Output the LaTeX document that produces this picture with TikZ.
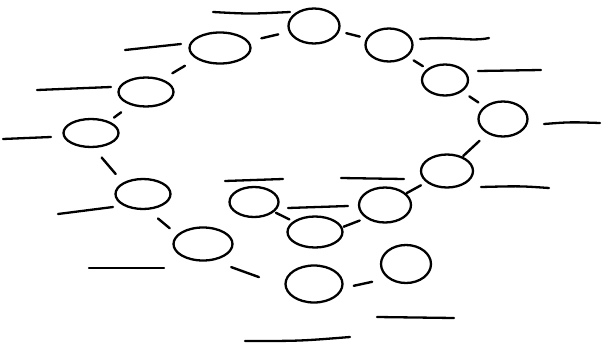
\documentclass[tikz,border=0pt]{standalone}
\usetikzlibrary{shapes.geometric,calc}
\begin{document}
\begin{tikzpicture}[x=1pt,y=-1pt,
  ring/.style={draw,ellipse,line width=2.3pt,inner sep=0pt},
  link/.style={line width=2.4pt,line cap=round},
  blank/.style={line width=2.3pt,line cap=round}]
\useasboundingbox[fill=white] (0,0) rectangle (602,343);
% circles
\node[ring,minimum width=51pt,minimum height=35pt] (T) at (314,26) {};
\node[ring,minimum width=61pt,minimum height=31pt] (A) at (220,48) {};
\node[ring,minimum width=55pt,minimum height=29pt] (B) at (146,92) {};
\node[ring,minimum width=55pt,minimum height=28pt] (C) at (91,133) {};
\node[ring,minimum width=47pt,minimum height=33pt] (D) at (389,45) {};
\node[ring,minimum width=46pt,minimum height=31pt] (E) at (445,80) {};
\node[ring,minimum width=49pt,minimum height=35pt] (F) at (503,119) {};
\node[ring,minimum width=52pt,minimum height=33pt] (G) at (447,171) {};
\node[ring,minimum width=52pt,minimum height=35pt] (H) at (385,205) {};
\node[ring,minimum width=55pt,minimum height=31pt] (I) at (315,232) {};
\node[ring,minimum width=49pt,minimum height=30pt] (J) at (254,202) {};
\node[ring,minimum width=55pt,minimum height=30pt] (K) at (143,194) {};
\node[ring,minimum width=59pt,minimum height=33pt] (L) at (203,244) {};
\node[ring,minimum width=57pt,minimum height=37pt] (M) at (314,284) {};
\node[ring,minimum width=50pt,minimum height=38pt] (N) at (406,264) {};
% connectors
\draw[link] ($(T)!0.38!(A)$) -- ($(T)!0.56!(A)$);
\draw[link] ($(A)!0.46!(B)+(-1,-2.5)$) -- ($(A)!0.63!(B)+(-1,-2.5)$);
\draw[link] ($(B)!0.47!(C)+(1,1)$) -- ($(B)!0.60!(C)+(1,1)$);
\draw[link] ($(C)!0.32!(K)+(-6,5)$) -- ($(C)!0.59!(K)+(-6,5)$);
\draw[link] ($(T)!0.43!(D)+(0,-1)$) -- ($(T)!0.61!(D)+(0,-1)$);
\draw[link] ($(D)!0.44!(E)$) -- ($(D)!0.605!(E)$);
\draw[link] ($(E)!0.42!(F)$) -- ($(E)!0.575!(F)$);
\draw[link] ($(F)!0.42!(G)$) -- ($(F)!0.71!(G)$);
\draw[link] ($(G)!0.42!(H)$) -- ($(G)!0.65!(H)$);
\draw[link] ($(H)!0.39!(I)+(2,5)$) -- ($(H)!0.62!(I)+(2,5)$);
\draw[link] ($(I)!0.42!(J)$) -- ($(I)!0.64!(J)$);
\draw[link] ($(K)!0.35!(L)+(-6,7)$) -- ($(K)!0.545!(L)+(-6,7)$);
\draw[link] ($(L)!0.29!(M)+(-4,11.5)$) -- ($(L)!0.54!(M)+(-4,11.5)$);
\draw[link] ($(M)!0.41!(N)+(2,10)$) -- ($(M)!0.61!(N)+(2,10)$);
% blank label lines
\draw[blank] (213,12) .. controls (250,14) .. (290,12);
\draw[blank] (125,50) -- (181,44);
\draw[blank] (37,90) -- (111,87);
\draw[blank] (3,139) -- (51,137);
\draw[blank] (420,39) .. controls (455,36) and (470,42) .. (489,38);
\draw[blank] (478,71) -- (541,70);
\draw[blank] (544,124) .. controls (570,122) .. (600,123);
\draw[blank] (481,187) .. controls (520,186) .. (549,188);
\draw[blank] (341,178) -- (404,179);
\draw[blank] (288,208) -- (348,206);
\draw[blank] (225,181) -- (283,179);
\draw[blank] (58,214) -- (113,207);
\draw[blank] (89,268) -- (164,268);
\draw[blank] (245,341) .. controls (300,341) .. (350,337);
\draw[blank] (377,317) -- (454,318);
\end{tikzpicture}
\end{document}
